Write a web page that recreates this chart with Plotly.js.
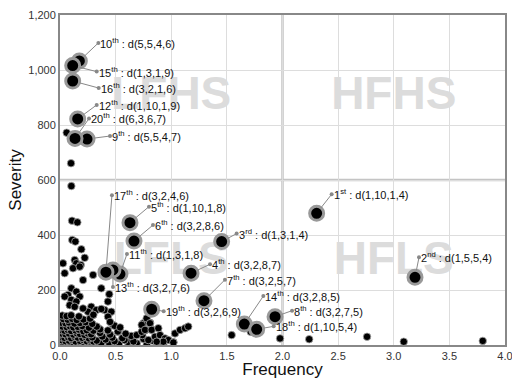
<!DOCTYPE html>
<html><head><meta charset="utf-8">
<script src="https://cdn.plot.ly/plotly-3.0.1.min.js"></script>
<style>html,body{margin:0;padding:0;background:#fff}#chart{width:512px;height:379px}</style>
</head><body><div id="chart"></div>
<script>
// ---- data ----
const xRange = [0, 4];
const yRange = [0, 1200];
const freqSplit = 2.0;
const sevSplit = 600;
const quadrantNames = ["LFHS", "HFHS", "LFLS", "HFLS"];

// highlighted (ranked) damage states
const rankNo = [1,2,3,4,5,6,7,8,9,10,11,12,13,14,15,16,17,18,19,20];
const rankFreq = [2.307,3.191,1.453,1.178,0.629,0.665,1.294,1.933,0.243,0.174,0.539,0.159,0.476,1.657,0.114,0.114,0.413,1.768,0.824,0.135];
const rankSev  = [479,246,376,261,445,378,161,103,749,1033,258,822,273,76,1016,960,265,57,130,751];
const rankCode = ["d(1,10,1,4)","d(1,5,5,4)","d(1,3,1,4)","d(3,2,8,7)","d(1,10,1,8)","d(3,2,8,6)","d(3,2,5,7)","d(3,2,7,5)","d(5,5,4,7)","d(5,5,4,6)","d(1,3,1,8)","d(1,10,1,9)","d(3,2,7,6)","d(3,2,8,5)","d(1,3,1,9)","d(3,2,1,6)","d(3,2,4,6)","d(1,10,5,4)","d(3,2,6,9)","d(6,3,6,7)"];

// all other damage states
const otherFreq = [
 0.06,0.099,0.102,0.108,0.156,0.11,0.138,0.192,0.222,0.132,0.147,0.186,0.027,0.117,0.177,0.042,0.207,0.297,0.371,0.102,0.147,0.072,0.177,0.042,0.102,0.147,0.087,0.132,0.431,0.401,0.461,0.281,0.326,0.371,0.252,0.297,0.207,0.431,0.027,0.476,0.521,0.443,
 0.01,0.04,0.07,0.10,0.13,0.16,0.19,0.22,0.25,0.28,0.31,0.34,0.37,0.44,0.53,0.61,0.69,0.78,0.87,0.93,1.02,
 0.02,0.05,0.08,0.11,0.14,0.18,0.21,0.24,0.27,0.30,0.33,0.41,0.49,0.58,0.66,0.75,0.83,
 0.01,0.04,0.07,0.10,0.13,0.16,0.20,0.23,0.26,0.29,0.38,0.47,0.56,0.64,
 0.02,0.05,0.08,0.12,0.15,0.18,0.22,0.25,0.28,0.36,0.45,0.59,0.74,
 0.01,0.04,0.07,0.10,0.14,0.17,0.21,0.24,0.30,0.36,0.43,0.52,0.77,0.82,
 0.02,0.06,0.09,0.12,0.16,0.20,0.26,0.33,0.49,0.54,
 0.01,0.05,0.08,0.13,0.18,0.23,0.29,0.45,0.75,0.81,
 0.03,0.07,0.11,0.15,0.21,0.27,
 0.02,0.06,0.10,0.17,0.30,
 0.69,0.734,0.779,0.809,0.734,0.764,0.824,0.884,0.854,0.899,0.944,0.974,0.929,1.034,1.079,1.124,1.153,0.794,0.869,1.019,
 1.543,1.714,1.978,2.24,2.76,3.09,3.80
];
const otherSev = [
 772,661,578,452,446,382,376,348,317,309,297,291,297,279,285,261,236,255,206,206,194,182,176,176,164,158,145,139,158,127,121,139,127,131,121,109,133,103,97,73,48,185,
 6,4,7,5,3,6,8,4,6,5,7,3,6,9,4,11,6,3,8,5,10,
 17,14,16,19,13,15,18,14,17,13,16,20,14,18,13,22,16,
 28,26,29,25,30,27,26,29,24,28,31,27,25,33,
 41,39,42,38,43,40,37,42,39,44,38,41,36,
 54,52,55,51,53,56,50,54,52,57,53,49,55,58,
 67,65,68,64,66,69,63,67,70,64,
 81,79,82,78,80,83,77,84,79,81,
 94,92,95,91,93,96,
 107,105,108,104,110,
 36,48,97,79,73,55,55,61,30,36,24,18,12,42,55,61,67,18,12,9,
 36,48,24,21,30,12,15
];

// ---- presentation (label offsets in pixels: dx, dy from marker) ----
const labelDx = [15,4,15,19,19,19,21,17,23,19,7,19,0,19,24,26,6,17,12,14];
const labelDy = [-19,-20,-8,-9,-16,-16,-21,-6,-3,-18,-20,-14,17,-28,6,7,-77,-3,2,-20];

function ordinal(n){
  const s = (n%100>=11 && n%100<=13) ? "th" : ({1:"st",2:"nd",3:"rd"}[n%10] || "th");
  return n + "<sup>" + s + "</sup>";
}

const FONT = "Liberation Sans, Arial, sans-serif";
const midLo = (xRange[0]+freqSplit)/2, midHi = (freqSplit+xRange[1])/2;
const sevHi = (sevSplit+yRange[1])/2, sevLo = (yRange[0]+sevSplit)/2;

const traces = [
  {
    type:"scatter", mode:"text", hoverinfo:"skip", showlegend:false,
    x:[midLo, midHi, midLo, midHi], y:[sevHi, sevHi, sevLo, sevLo],
    text: quadrantNames,
    textfont:{family:FONT, size:46, color:"#dcdcdc", weight:"bold"}
  },
  {
    type:"scatter", mode:"markers", showlegend:false,
    x: otherFreq, y: otherSev,
    marker:{color:"#000", size:7.5, line:{width:0.8, color:"#aaa"}}
  },
  {
    type:"scatter", mode:"markers", showlegend:false,
    x: rankFreq, y: rankSev,
    marker:{color:"#000", size:14, line:{width:3, color:"#999"}}
  }
];

const annotations = rankNo.map((n,i)=>({
  x: rankFreq[i], y: rankSev[i], xref:"x", yref:"y",
  ax: labelDx[i], ay: labelDy[i],
  text: ordinal(n) + " : " + rankCode[i],
  xanchor:"left", yanchor:"middle",
  showarrow:true, arrowside:"start", startarrowhead:6, startarrowsize:1,
  arrowwidth:1, arrowcolor:"#888", standoff:7,
  font:{family:FONT, size:11, color:"#111"}, borderpad:1
}));

const layout = {
  width:512, height:379,
  margin:{l:60, r:7, t:15, b:34},
  paper_bgcolor:"#fff", plot_bgcolor:"#fff",
  font:{family:FONT, color:"#333"},
  xaxis:{
    range:xRange, dtick:0.5, tickformat:".1f", ticklabeloverflow:"allow",
    showgrid:true, gridcolor:"#dddddd", gridwidth:1, zeroline:false,
    showline:true, mirror:true, linecolor:"#888", linewidth:2,
    tickfont:{family:FONT, size:11, color:"#333"},
    title:{text:"Frequency", font:{family:FONT, size:17, color:"#111"}, standoff:2}
  },
  yaxis:{
    range:yRange, dtick:200, tickformat:",d", ticklabeloverflow:"allow",
    showgrid:true, gridcolor:"#dddddd", gridwidth:1, zeroline:false,
    showline:true, mirror:true, linecolor:"#888", linewidth:2,
    tickfont:{family:FONT, size:11, color:"#333"},
    title:{text:"Severity", font:{family:FONT, size:17, color:"#111"}, standoff:2}
  },
  shapes:[
    {type:"line", layer:"below", xref:"x", yref:"paper", x0:freqSplit, x1:freqSplit, y0:0, y1:1, line:{color:"#c4c4c4", width:2.5}},
    {type:"line", layer:"below", xref:"paper", yref:"y", x0:0, x1:1, y0:sevSplit, y1:sevSplit, line:{color:"#c4c4c4", width:2.5}}
  ],
  annotations: annotations
};

Plotly.newPlot("chart", traces, layout, {displayModeBar:false, staticPlot:true});
</script>
</body></html>
